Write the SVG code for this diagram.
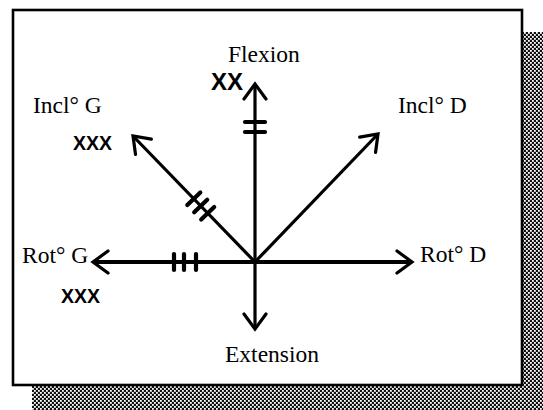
<svg xmlns="http://www.w3.org/2000/svg" width="543" height="410" viewBox="0 0 543 410">
  <defs>
    <pattern id="halftone" width="4" height="4" patternUnits="userSpaceOnUse">
      <rect width="4" height="4" fill="#111"/>
      <rect x="0" y="0" width="1.8" height="1.8" fill="#fff"/>
      <rect x="2" y="2" width="1.8" height="1.8" fill="#fff"/>
    </pattern>
    <marker id="arrow" viewBox="-18 -14 21 28" markerWidth="21" markerHeight="28" refX="0" refY="0" orient="auto" markerUnits="userSpaceOnUse">
      <path d="M-15,-11 L0,0 L-15,11" fill="none" stroke="#000" stroke-width="3.2" stroke-linecap="round" stroke-linejoin="miter"/>
    </marker>
    <style>
      .axis { stroke: #000; stroke-width: 3.2; fill: none; marker-end: url(#arrow); }
      .tick { stroke: #000; stroke-width: 4.2; stroke-linecap: round; }
      .lbl { font-family: "Liberation Serif", "Times New Roman", serif; font-size: 23.5px; fill: #000; }
      .xs { font-family: "Liberation Sans", Arial, sans-serif; font-weight: bold; fill: #000; }
    </style>
  </defs>

  <!-- shadow and frame -->
  <rect x="32" y="32" width="511" height="378" fill="url(#halftone)"/>
  <rect x="13" y="10" width="509" height="375" fill="#fff" stroke="#000" stroke-width="2.6"/>

  <g id="connectors">
    <line class="axis" x1="255" y1="262" x2="255" y2="84"/>
    <line class="axis" x1="255" y1="262" x2="255" y2="329"/>
    <line class="axis" x1="255" y1="262" x2="93" y2="262" style="stroke-width:3.8"/>
    <line class="axis" x1="255" y1="262" x2="412" y2="262" style="stroke-width:3.8"/>
    <line class="axis" x1="255" y1="262" x2="133" y2="136"/>
    <line class="axis" x1="255" y1="262" x2="378" y2="134"/>
    <!-- ticks: flexion (double) -->
    <line class="tick" x1="245" y1="122" x2="265" y2="122"/>
    <line class="tick" x1="245" y1="132" x2="265" y2="132"/>
    <!-- ticks: incl G (triple) -->
    <line class="tick" x1="201.2" y1="219.5" x2="214.2" y2="206.9"/>
    <line class="tick" x1="194.2" y1="212.3" x2="207.2" y2="199.7"/>
    <line class="tick" x1="187.3" y1="205.1" x2="200.3" y2="192.5"/>
    <!-- ticks: rot G (triple) -->
    <line class="tick" x1="174" y1="254" x2="174" y2="270"/>
    <line class="tick" x1="184" y1="254" x2="184" y2="270"/>
    <line class="tick" x1="196" y1="254" x2="196" y2="270"/>
  </g>

  <g id="flexion"><text class="lbl" x="228" y="62">Flexion</text></g>
  <g id="flexion-mark"><text class="xs" x="211" y="90" font-size="24">XX</text></g>
  <g id="incl-g"><text class="lbl" x="33" y="113">Incl° G</text></g>
  <g id="incl-g-mark"><text class="xs" x="73" y="150" font-size="19.5">XXX</text></g>
  <g id="incl-d"><text class="lbl" x="398" y="113">Incl° D</text></g>
  <g id="rot-g"><text class="lbl" x="22" y="263">Rot° G</text></g>
  <g id="rot-g-mark"><text class="xs" x="61" y="303" font-size="19.5">XXX</text></g>
  <g id="rot-d"><text class="lbl" x="420" y="262">Rot° D</text></g>
  <g id="extension"><text class="lbl" x="225" y="362">Extension</text></g>
</svg>
